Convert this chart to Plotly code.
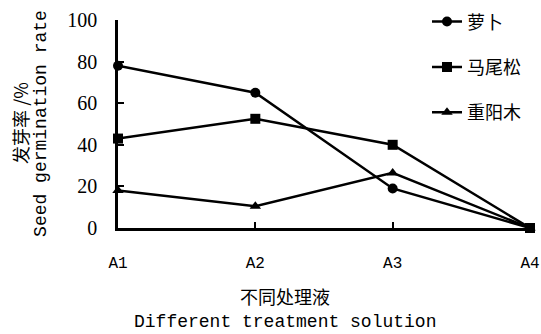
import plotly.graph_objects as go

categories = ["A1", "A2", "A3", "A4"]
luobo = [78, 65, 19, 0]
maweisong = [43, 52.5, 40, 0]
chongyangmu = [18, 10.5, 26.5, 0]
series_names = ["萝卜", "马尾松", "重阳木"]
y_ticks = [0, 20, 40, 60, 80, 100]

CJK = "Noto Sans CJK SC, sans-serif"
MONO = "Liberation Mono, DejaVu Sans Mono, monospace"
SERIF = "Liberation Serif, Times New Roman, serif"

fig = go.Figure()
symbols = ["circle", "square", "triangle-up"]
for i, (name, vals, sym) in enumerate(zip(series_names, [luobo, maweisong, chongyangmu], symbols)):
    fig.add_trace(go.Scatter(
        x=list(range(len(categories))), y=vals, name=name,
        mode="lines+markers",
        line=dict(color="black", width=2.5),
        marker=dict(symbol=sym, size=10, color="black"),
        cliponaxis=False, legendgroup=name,
    ))

fig.update_layout(
    width=541, height=334,
    margin=dict(l=118, r=11, t=20, b=106, autoexpand=False),
    paper_bgcolor="white", plot_bgcolor="white",
    showlegend=True,
    legend=dict(x=0.75, y=1.08, xanchor="left", yanchor="top",
                font=dict(family=CJK, size=18, color="black"),
                tracegroupgap=19, bgcolor="rgba(0,0,0,0)"),
    xaxis=dict(
        range=[0, 3], tickvals=list(range(len(categories))), ticktext=categories,
        showline=True, linecolor="black", linewidth=2.5,
        ticks="inside", ticklen=6, tickwidth=2, tickcolor="black",
        showgrid=False, zeroline=False, automargin=False,
        tickfont=dict(family=MONO, size=16, color="black"),
        ticklabelstandoff=18,
    ),
    yaxis=dict(
        range=[0, 100], tickvals=y_ticks,
        showline=True, linecolor="black", linewidth=2.5,
        ticks="inside", ticklen=6, tickwidth=2, tickcolor="black",
        showgrid=False, zeroline=False, automargin=False,
        tickfont=dict(family=SERIF, size=20, color="black"),
        ticklabelstandoff=14,
    ),
)

ann = dict(xref="paper", yref="paper", showarrow=False, xanchor="center", yanchor="middle")
fig.add_annotation(x=-0.238, y=0.505, text="发芽率 /%", textangle=-90,
                   font=dict(family=CJK, size=18, color="black"), **ann)
fig.add_annotation(x=-0.187, y=0.505, text="Seed germination rate", textangle=-90,
                   font=dict(family=MONO, size=18, color="black"), **ann)
fig.add_annotation(x=0.405, y=-0.327, text="不同处理液",
                   font=dict(family=CJK, size=18, color="black"), **ann)
fig.add_annotation(x=0.405, y=-0.452, text="Different treatment solution",
                   font=dict(family=MONO, size=18, color="black"), **ann)

fig.write_html("out.html", config={"displayModeBar": False},
               post_script="document.body.style.margin='0';")
